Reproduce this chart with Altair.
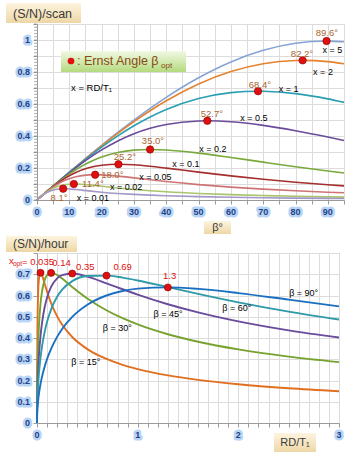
import altair as alt
import pandas as pd

# ---------------- top panel data: (S/N)/scan vs flip angle ----------------
beta = [0, 3, 6, 9, 12, 16, 20, 25, 30, 35, 40, 50, 60, 70, 80, 90, 95]
scan_x5 = [0, 0.05234, 0.10453, 0.15642, 0.20788, 0.27557, 0.34188, 0.42235, 0.49955, 0.57288, 0.64177, 0.76419, 0.86310, 0.93552, 0.97932, 0.99326, 0.98890]
scan_x2 = [0, 0.05233, 0.10444, 0.15613, 0.20720, 0.27398, 0.33882, 0.41651, 0.48973, 0.55779, 0.62008, 0.72547, 0.80318, 0.85196, 0.87203, 0.86467, 0.85133]
scan_x1 = [0, 0.05230, 0.10420, 0.15532, 0.20530, 0.26956, 0.33042, 0.40077, 0.46384, 0.51896, 0.56575, 0.63419, 0.67083, 0.67950, 0.66500, 0.63212, 0.61015]
scan_x05 = [0, 0.05223, 0.10365, 0.15352, 0.20113, 0.26011, 0.31294, 0.36929, 0.41441, 0.44853, 0.47241, 0.49401, 0.48907, 0.46652, 0.43311, 0.39347, 0.37229]
scan_x02 = [0, 0.05202, 0.10200, 0.14819, 0.18923, 0.23459, 0.26881, 0.29697, 0.31150, 0.31570, 0.31253, 0.29312, 0.26579, 0.23659, 0.20810, 0.18127, 0.16855]
scan_x01 = [0, 0.05167, 0.09935, 0.14004, 0.17214, 0.20143, 0.21738, 0.22351, 0.21989, 0.21091, 0.19935, 0.17424, 0.15051, 0.12950, 0.11119, 0.09516, 0.08787]
scan_x005 = [0, 0.05098, 0.09444, 0.12614, 0.14578, 0.15701, 0.15716, 0.14948, 0.13839, 0.12669, 0.11554, 0.09615, 0.08055, 0.06793, 0.05753, 0.04877, 0.04487]
scan_x002 = [0, 0.04902, 0.08223, 0.09718, 0.09988, 0.09447, 0.08582, 0.07496, 0.06552, 0.05763, 0.05109, 0.04100, 0.03363, 0.02799, 0.02350, 0.01980, 0.01817]
scan_x001 = [0, 0.04606, 0.06764, 0.07031, 0.06550, 0.05678, 0.04885, 0.04094, 0.03489, 0.03020, 0.02647, 0.02096, 0.01706, 0.01414, 0.01183, 0.00995, 0.00912]

scan_series = ["x = 5", "x = 2", "x = 1", "x = 0.5", "x = 0.2", "x = 0.1", "x = 0.05", "x = 0.02", "x = 0.01"]
scan_colors = ["#86a3d6", "#e5822e", "#2b9fb2", "#6a4c9a", "#79a93b", "#a52e2e", "#cf7474", "#a9c46c", "#a497c9"]
ernst_angle = [89.6, 82.2, 68.4, 52.7, 35.0, 25.2, 18.0, 11.4, 8.1]
ernst_peak = [0.9933, 0.8727, 0.6798, 0.4949, 0.3157, 0.2235, 0.1581, 0.1000, 0.0707]
ernst_text = ["89.6°", "82.2°", "68.4°", "52.7°", "35.0°", "25.2°", "18.0°", "11.4°", "8.1°"]
ernst_text_beta = [89.7, 82.0, 69.0, 54.1, 35.9, 27.2, 23.3, 17.3, 6.8]
ernst_text_s = [1.044, 0.9125, 0.719, 0.5375, 0.369, 0.269, 0.158, 0.102, 0.0125]
curve_text_beta = [91.4, 88.5, 77.9, 67.1, 54.4, 46.1, 36.6, 27.6, 17.3]
curve_text_s = [0.9375, 0.80, 0.694, 0.5125, 0.319, 0.225, 0.145, 0.080, 0.0125]

# tick labels
top_x_ticks = [0, 10, 20, 30, 40, 50, 60, 70, 80, 90]
top_x_labels = ["0", "10", "20", "30", "40", "50", "60", "70", "80", "90"]
top_y_ticks = [0, 0.2, 0.4, 0.6, 0.8, 1.0]
top_y_labels = ["0", "0.2", "0.4", "0.6", "0.8", "1"]
top_y_minor = [i / 50 for i in range(56)]

# ---------------- bottom panel data: (S/N)/hour vs RD/T1 ----------------
ratio = [0, 0.001, 0.005, 0.01, 0.02, 0.035, 0.05, 0.075, 0.1, 0.14, 0.2, 0.25, 0.35, 0.5, 0.69, 0.85, 1.0, 1.3, 1.6, 2.0, 2.5, 3.0]
hour_b15 = [0, 0.23348, 0.46944, 0.58952, 0.68117, 0.70707, 0.69536, 0.65744, 0.61818, 0.56386, 0.50155, 0.46219, 0.40459, 0.34776, 0.30125, 0.27377, 0.25379, 0.22414, 0.20287, 0.18204, 0.16319, 0.14916]
hour_b30 = [0, 0.11720, 0.25504, 0.34890, 0.46325, 0.56133, 0.61889, 0.67118, 0.69535, 0.70646, 0.69654, 0.67948, 0.64042, 0.58607, 0.53042, 0.49302, 0.46384, 0.41757, 0.38233, 0.34629, 0.31248, 0.28666]
hour_b45 = [0, 0.07612, 0.16828, 0.23458, 0.32260, 0.40983, 0.47109, 0.54236, 0.59079, 0.64082, 0.68067, 0.69624, 0.70352, 0.68895, 0.65747, 0.62937, 0.60413, 0.55886, 0.52045, 0.47808, 0.43580, 0.40207]
hour_b60 = [0, 0.05469, 0.12158, 0.17064, 0.23780, 0.30785, 0.36021, 0.42620, 0.47594, 0.53488, 0.59432, 0.62746, 0.66747, 0.69166, 0.69358, 0.68403, 0.67083, 0.63972, 0.60778, 0.56793, 0.52428, 0.48723]
hour_b90 = [0, 0.03161, 0.07054, 0.09950, 0.14001, 0.18385, 0.21811, 0.26384, 0.30093, 0.34916, 0.40533, 0.44240, 0.49917, 0.55645, 0.60003, 0.62105, 0.63212, 0.63803, 0.63095, 0.61141, 0.58054, 0.54860]

hour_series = ["β = 15°", "β = 30°", "β = 45°", "β = 60°", "β = 90°"]
hour_colors = ["#e07020", "#78a22f", "#6a4c9c", "#2f9aa8", "#1a6fc0"]
x_opt = [0.035, 0.14, 0.35, 0.69, 1.3]
h_opt = [0.70707, 0.70646, 0.70352, 0.69358, 0.63803]
opt_text = ["0.14", "0.35", "0.69", "1.3"]
opt_text_x = [0.243, 0.480, 0.851, 1.317]
opt_text_y = [0.753, 0.734, 0.734, 0.692]
hour_text_x = [0.485, 0.797, 1.302, 1.985, 2.649]
hour_text_y = [0.287, 0.447, 0.513, 0.541, 0.612]

bot_x_ticks = [0, 1, 2, 3]
bot_x_labels = ["0", "1", "2", "3"]
bot_y_ticks = [0, 0.1, 0.2, 0.3, 0.4, 0.5, 0.6, 0.7]
bot_y_labels = ["0", "0.1", "0.2", "0.3", "0.4", "0.5", "0.6", "0.7"]

FONT = "Liberation Sans"
RED = "#e01010"
BROWN = "#a8652f"
LBL = "#1f3f88"
HIGHLIGHT = "#b9d5f5"

# ---------------- build tables ----------------
scan_vals = [scan_x5, scan_x2, scan_x1, scan_x05, scan_x02, scan_x01, scan_x005, scan_x002, scan_x001]
rows = []
for name, vals, ang, pk in zip(scan_series, scan_vals, ernst_angle, ernst_peak):
    pts = sorted(list(zip(beta, vals)) + [(ang, pk)])
    for b, v in pts:
        rows.append({"beta": b, "S": v, "curve": name})
df_scan = pd.DataFrame(rows)
df_ernst = pd.DataFrame({"beta": ernst_angle, "S": ernst_peak})
df_ernst_txt = pd.DataFrame({"beta": ernst_text_beta, "S": ernst_text_s, "t": ernst_text})
df_curve_txt = pd.DataFrame({"beta": curve_text_beta, "S": curve_text_s, "t": scan_series})
df_tx = pd.DataFrame({"beta": top_x_ticks, "t": top_x_labels})
df_ty = pd.DataFrame({"S": top_y_ticks, "t": top_y_labels})
df_tminor = pd.DataFrame({"S": top_y_minor})

hour_vals = [hour_b15, hour_b30, hour_b45, hour_b60, hour_b90]
rows = []
for name, vals in zip(hour_series, hour_vals):
    for r, v in zip(ratio, vals):
        rows.append({"r": r, "H": v, "curve": name})
df_hour = pd.DataFrame(rows)
df_opt = pd.DataFrame({"r": x_opt, "H": h_opt})
df_opt_txt = pd.DataFrame({"r": opt_text_x, "H": opt_text_y, "t": opt_text})
df_hour_txt = pd.DataFrame({"r": hour_text_x, "H": hour_text_y, "t": hour_series})
df_bx = pd.DataFrame({"r": bot_x_ticks, "t": bot_x_labels})
df_by = pd.DataFrame({"H": bot_y_ticks, "t": bot_y_labels})

one = pd.DataFrame({"a": [0]})

beige = alt.LinearGradient(gradient="linear", x1=0, x2=0, y1=0, y2=1,
                           stops=[alt.GradientStop(offset=0, color="#fdf4df"),
                                  alt.GradientStop(offset=1, color="#eed7a6")])
green = alt.LinearGradient(gradient="linear", x1=0, x2=0, y1=0, y2=1,
                           stops=[alt.GradientStop(offset=0, color="#f1f9e3"),
                                  alt.GradientStop(offset=1, color="#b4da7e")])


def box(x1, x2, y1, y2, fill):
    return alt.Chart(one).mark_rect(color=fill, clip=False).encode(
        x=alt.value(x1), x2=alt.value(x2), y=alt.value(y1), y2=alt.value(y2))


def label(x, y, text, size=9, color="black", align="left", font=FONT):
    return alt.Chart(one).mark_text(text=text, fontSize=size, color=color, align=align,
                                    baseline="middle", font=font, clip=False).encode(
        x=alt.value(x), y=alt.value(y))


def tick_labels(df, enc, align):
    """highlighted (selected-looking) tick labels"""
    hl = alt.Chart(df).mark_text(fontSize=9, fontWeight="bold", font=FONT, align=align, baseline="middle",
                                 color=HIGHLIGHT, stroke=HIGHLIGHT, strokeWidth=5, strokeJoin="round",
                                 clip=False).encode(text="t:N", **enc)
    tx_ = alt.Chart(df).mark_text(fontSize=9, fontWeight="bold", font=FONT, align=align, baseline="middle",
                                  color=LBL, clip=False).encode(text="t:N", **enc)
    return [hl, tx_]


# ---------------- top chart ----------------
xs = alt.Scale(domain=[0, 95], nice=False)
ys = alt.Scale(domain=[0, 1.1], nice=False)
x_ax = alt.Axis(title=None, values=list(range(0, 96, 5)), labels=False)
y_ax = alt.Axis(title=None, values=[i / 10 for i in range(12)], labels=False)


def tx(field="beta:Q"):
    return alt.X(field, scale=xs, axis=x_ax)


def ty(field="S:Q"):
    return alt.Y(field, scale=ys, axis=y_ax)


top_lines = alt.Chart(df_scan).mark_line(interpolate="monotone", strokeWidth=1.6).encode(
    x=tx(), y=ty(),
    color=alt.Color("curve:N", scale=alt.Scale(domain=scan_series, range=scan_colors), legend=None),
    detail="curve:N",
    order="beta:Q",
)
top_pts = alt.Chart(df_ernst).mark_circle(size=55, color=RED, opacity=1, stroke="#8b0000", strokeWidth=0.6).encode(
    x=tx(), y=ty())
top_ang = alt.Chart(df_ernst_txt).mark_text(fontSize=9.5, color=BROWN, font=FONT).encode(
    x=tx(), y=ty(), text="t:N")
top_cur = alt.Chart(df_curve_txt).mark_text(fontSize=9, color="black", font=FONT).encode(
    x=tx(), y=ty(), text="t:N")
top_minor = alt.Chart(df_tminor).mark_rule(color="#8a8a8a", strokeWidth=0.7).encode(
    y=ty(), x=alt.value(-3), x2=alt.value(0))

top_layers = [top_minor, top_lines, top_pts, top_ang, top_cur]
top_layers += tick_labels(df_tx, {"x": tx(), "y": alt.value(188)}, "center")
top_layers += tick_labels(df_ty, {"y": ty(), "x": alt.value(-7)}, "right")
top_layers += [
    box(-31, 44, -21, -1, beige), label(-24, -10, "(S/N)/scan", size=12.5, color="#3a3a3a"),
    box(24, 149, 27, 48, green),
    alt.Chart(one).mark_circle(size=45, color=RED, opacity=1).encode(x=alt.value(34), y=alt.value(37)),
    label(40, 37, ":  Ernst Angle β", size=12.5, color="#8a4a14"),
    label(124, 42, "opt", size=8, color="#8a4a14"),
    label(34, 64, "x = RD/T₁", size=9.5),
    box(167, 194, 197, 210, beige), label(180.5, 204, "β°", size=11, color="#3a3a3a", align="center"),
]
top = alt.layer(*top_layers).properties(width=307, height=176)

# ---------------- bottom chart ----------------
rs = alt.Scale(domain=[0, 3], nice=False)
hs = alt.Scale(domain=[0, 0.8], nice=False)
r_ax = alt.Axis(title=None, values=[i / 10 for i in range(31)], labels=False)
h_ax = alt.Axis(title=None, values=[i / 10 for i in range(9)], labels=False)


def bx(field="r:Q"):
    return alt.X(field, scale=rs, axis=r_ax)


def by(field="H:Q"):
    return alt.Y(field, scale=hs, axis=h_ax)


bot_lines = alt.Chart(df_hour).mark_line(interpolate="monotone", strokeWidth=1.9).encode(
    x=bx(), y=by(),
    color=alt.Color("curve:N", scale=alt.Scale(domain=hour_series, range=hour_colors), legend=None),
    detail="curve:N",
    order="r:Q",
)
bot_pts = alt.Chart(df_opt).mark_circle(size=50, color=RED, opacity=1, stroke="#8b0000", strokeWidth=0.6).encode(
    x=bx(), y=by())
bot_opt = alt.Chart(df_opt_txt).mark_text(fontSize=9.5, color=RED, font=FONT).encode(
    x=bx(), y=by(), text="t:N")
bot_beta = alt.Chart(df_hour_txt).mark_text(fontSize=9, color="black", font=FONT).encode(
    x=bx(), y=by(), text="t:N")

bot_layers = [bot_lines, bot_pts, bot_opt, bot_beta]
bot_layers += tick_labels(df_bx, {"x": bx(), "y": alt.value(182)}, "center")
bot_layers += tick_labels(df_by, {"y": by(), "x": alt.value(-7)}, "right")
bot_layers += [
    label(-28, 8, "x", size=9.5, color=RED),
    label(-24, 11, "opt", size=6.5, color=RED),
    label(-15, 9, "= 0.035", size=9.5, color=RED),
    box(-31, 40, -17, -1, beige), label(-24, -9, "(S/N)/hour", size=12, color="#3a3a3a"),
    box(237, 279, 180, 199, beige), label(258, 190, "RD/T₁", size=11, color="#3a3a3a", align="center"),
]
bottom = alt.layer(*bot_layers).properties(width=302, height=170)

chart = alt.vconcat(top, bottom, spacing=53, bounds="flush").resolve_scale(
    color="independent", x="independent", y="independent"
).properties(
    padding={"left": 5, "top": 2, "right": 0, "bottom": 0}
).configure_view(stroke="#c8c8c8").configure_axis(
    gridColor="#dcdcdc", domainColor="#9a9a9a", tickColor="#9a9a9a", tickSize=4,
)

chart.save("out.html", embed_options={"renderer": "svg", "actions": False})
